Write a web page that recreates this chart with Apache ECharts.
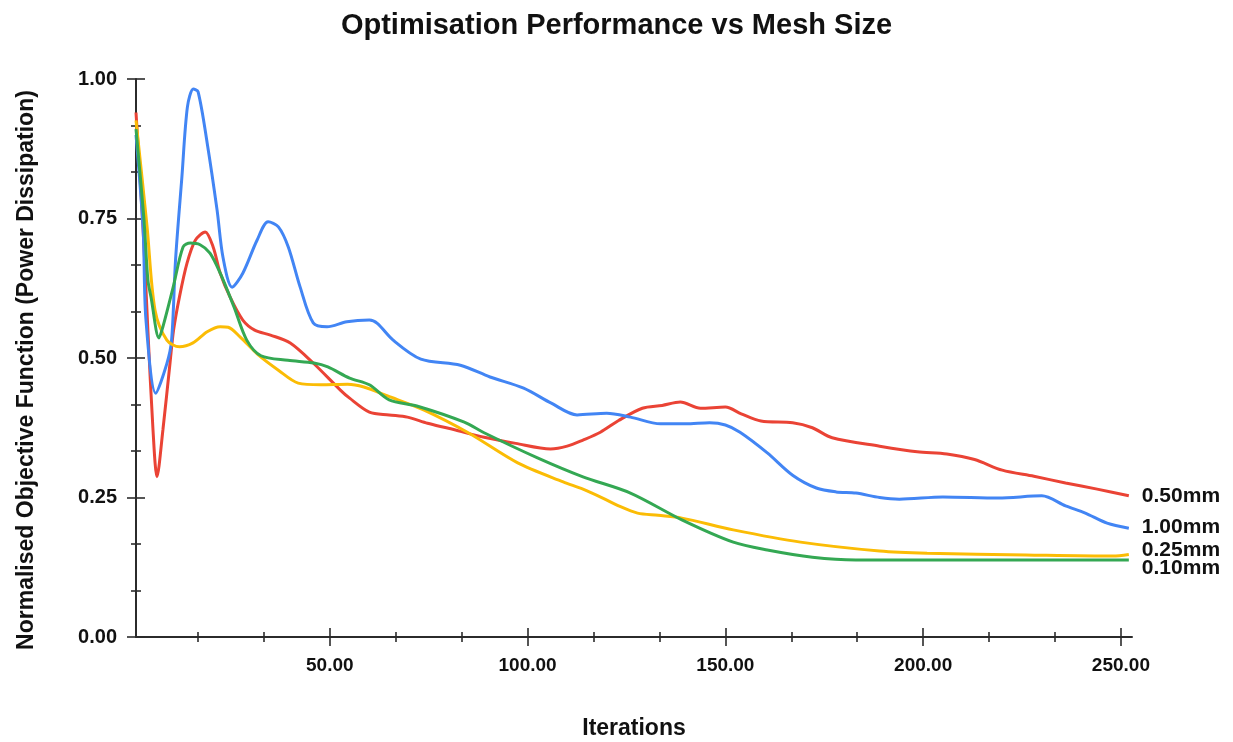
<!DOCTYPE html>
<html>
<head>
<meta charset="utf-8">
<script src="https://cdn.jsdelivr.net/npm/echarts@6/dist/echarts.min.js"></script>
<style>
html,body{margin:0;padding:0;background:#fff;}
#chart{width:1233px;height:742px;}
</style>
</head>
<body>
<div id="chart"></div>
<script>
// ---- Data ----
const seriesNames = ['0.50mm', '1.00mm', '0.25mm', '0.10mm'];

const iterRed = [1, 2.8, 4, 5.3, 6.3, 7.8, 9.6, 10.5, 12, 13.9, 16, 18.5, 20.5, 22.3, 24.8, 28, 31, 35, 40, 45.8, 52.6, 55, 60, 65, 69.6, 74.7, 80, 89, 97, 105.8, 110, 114, 118.4, 123, 129, 134, 138.6, 143.7, 150, 154, 159, 167, 172, 177, 189, 198.5, 206, 213, 220, 228, 236, 244, 252];
const valRed  = [0.94, 0.73, 0.55, 0.371, 0.287, 0.371, 0.491, 0.55, 0.61, 0.67, 0.711, 0.726, 0.699, 0.652, 0.609, 0.568, 0.55, 0.541, 0.527, 0.491, 0.443, 0.428, 0.403, 0.398, 0.394, 0.383, 0.374, 0.358, 0.347, 0.337, 0.342, 0.353, 0.367, 0.388, 0.41, 0.415, 0.421, 0.41, 0.412, 0.4, 0.387, 0.384, 0.375, 0.357, 0.342, 0.332, 0.328, 0.318, 0.299, 0.288, 0.276, 0.265, 0.253];

const iterBlue = [1, 2.8, 3.5, 6, 8.8, 10, 11, 12.6, 14, 15.5, 16.7, 19, 21.5, 23, 25.3, 28, 31.6, 34.4, 37, 39.5, 42.5, 45.8, 49.3, 54.3, 60, 62, 66, 73, 83, 90.5, 99, 106, 112.5, 120, 126, 133.6, 140, 146, 150, 153.7, 160.6, 167, 173, 178, 183, 189, 194, 205, 219, 230, 236, 241, 246.5, 252];
const valBlue  = [0.9, 0.73, 0.57, 0.437, 0.49, 0.532, 0.676, 0.824, 0.95, 0.982, 0.977, 0.885, 0.765, 0.68, 0.627, 0.652, 0.711, 0.744, 0.735, 0.699, 0.627, 0.563, 0.556, 0.565, 0.568, 0.562, 0.532, 0.498, 0.487, 0.466, 0.446, 0.419, 0.398, 0.401, 0.394, 0.382, 0.382, 0.384, 0.38, 0.367, 0.33, 0.29, 0.267, 0.26, 0.258, 0.25, 0.247, 0.251, 0.249, 0.253, 0.235, 0.222, 0.204, 0.195];

const iterYellow = [1, 3.8, 5.8, 8.8, 12, 15.4, 19, 22.3, 24.3, 27.3, 32, 37, 42, 47.7, 54.5, 58.6, 64.6, 73.7, 85, 97.5, 109, 114, 119, 123, 127.8, 133, 139, 152, 169, 189, 201, 226, 248, 252];
const valYellow  = [0.926, 0.735, 0.586, 0.532, 0.52, 0.527, 0.547, 0.556, 0.555, 0.538, 0.505, 0.478, 0.455, 0.452, 0.453, 0.448, 0.432, 0.407, 0.366, 0.312, 0.278, 0.265, 0.249, 0.235, 0.222, 0.218, 0.213, 0.192, 0.17, 0.154, 0.15, 0.147, 0.145, 0.148];

const iterGreen = [1, 3, 4, 4.8, 6.8, 7.8, 10.4, 12.9, 14.7, 17.2, 19.7, 22.3, 25.8, 29, 32.6, 39.4, 46, 49.5, 55, 60, 65, 72, 84, 89, 102.5, 114, 126, 139, 152, 160.6, 172, 183, 189, 220, 252];
const valGreen  = [0.91, 0.75, 0.64, 0.609, 0.536, 0.556, 0.627, 0.699, 0.706, 0.703, 0.688, 0.652, 0.591, 0.532, 0.504, 0.496, 0.491, 0.484, 0.464, 0.452, 0.425, 0.414, 0.385, 0.366, 0.321, 0.287, 0.258, 0.21, 0.17, 0.156, 0.143, 0.138, 0.138, 0.138, 0.138];

// axis ticks
const xMajorTicks = [50, 100, 150, 200, 250];
const xMinorTicks = [16.67, 33.33, 66.67, 83.33, 116.67, 133.33, 166.67, 183.33, 216.67, 233.33];
const yMajorTicks = [0, 0.25, 0.5, 0.75, 1.0];
const yMinorTicks = [0.0833, 0.1667, 0.3333, 0.4167, 0.5833, 0.6667, 0.8333, 0.9167];
const xRange = [1, 252.8];
const yRange = [0, 1];

// ---- Chart ----
const colors = ['#EA4335', '#4285F4', '#FBBC05', '#34A853'];
const labelOffsets = [[0, 0], [0, -1], [0, -4], [0, 8]];
const iters = [iterRed, iterBlue, iterYellow, iterGreen];
const vals = [valRed, valBlue, valYellow, valGreen];

const FONT = '"Liberation Sans", Arial, sans-serif';
const AXIS_COLOR = '#2b2b2b';
const gridRect = { left: 136, right: 101, top: 79, bottom: 105, containLabel: false, outerBoundsMode: 'none' };

const series = seriesNames.map((name, i) => ({
  name: name,
  type: 'line',
  xAxisIndex: 0,
  yAxisIndex: 0,
  data: iters[i].map((x, k) => [x, vals[i][k]]),
  showSymbol: false,
  smooth: 0.3,
  lineStyle: { color: colors[i], width: 3 },
  itemStyle: { color: colors[i] },
  endLabel: {
    show: true,
    formatter: '{a}',
    distance: 13,
    offset: labelOffsets[i],
    color: '#111',
    fontFamily: FONT,
    fontWeight: 'bold',
    fontSize: 21
  },
  z: 3
}));

// Tick-only axis builder (ticks crossing the axis: one set outside, one inside)
function tickXAxis(gridIndex, values, inside, len) {
  return {
    type: 'value', gridIndex: gridIndex, min: xRange[0], max: xRange[1],
    axisLine: { show: false },
    axisTick: { show: true, inside: inside, length: len, customValues: values, lineStyle: { color: AXIS_COLOR, width: 1.6 } },
    axisLabel: { show: false },
    splitLine: { show: false }
  };
}
function tickYAxis(gridIndex, values, inside, len) {
  return {
    type: 'value', gridIndex: gridIndex, min: yRange[0], max: yRange[1],
    axisLine: { show: false },
    axisTick: { show: true, inside: inside, length: len, customValues: values, lineStyle: { color: AXIS_COLOR, width: 1.6 } },
    axisLabel: { show: false },
    splitLine: { show: false }
  };
}

const option = {
  backgroundColor: '#ffffff',
  animation: false,
  title: {
    text: 'Optimisation Performance vs Mesh Size',
    left: 'center',
    top: 6,
    textStyle: { fontFamily: FONT, fontWeight: 'bold', fontSize: 29, color: '#111' }
  },
  grid: [0, 1, 2, 3].map(() => Object.assign({}, gridRect)),
  xAxis: [
    {
      type: 'value', gridIndex: 0, min: xRange[0], max: xRange[1],
      name: 'Iterations', nameLocation: 'middle', nameGap: 80,
      nameTextStyle: { fontFamily: FONT, fontWeight: 'bold', fontSize: 23, color: '#111' },
      axisLine: { show: true, lineStyle: { color: AXIS_COLOR, width: 2 } },
      axisTick: { show: true, length: 9, customValues: xMajorTicks, lineStyle: { color: AXIS_COLOR, width: 1.6 } },
      splitLine: { show: false },
      axisLabel: {
        margin: 19,
        customValues: xMajorTicks,
        formatter: v => v.toFixed(2),
        fontFamily: FONT, fontWeight: 'bold', fontSize: 19, color: '#111'
      }
    },
    tickXAxis(1, xMajorTicks, true, 9),
    tickXAxis(2, xMinorTicks, false, 5),
    tickXAxis(3, xMinorTicks, true, 5)
  ],
  yAxis: [
    {
      type: 'value', gridIndex: 0, min: yRange[0], max: yRange[1],
      name: 'Normalised Objective Function (Power Dissipation)',
      nameLocation: 'middle', nameGap: 98,
      nameTextStyle: { fontFamily: FONT, fontWeight: 'bold', fontSize: 23, color: '#111', padding: [0, 24, 0, 0] },
      axisLine: { show: true, lineStyle: { color: AXIS_COLOR, width: 2 } },
      axisTick: { show: true, length: 9, customValues: yMajorTicks, lineStyle: { color: AXIS_COLOR, width: 1.6 } },
      splitLine: { show: false },
      axisLabel: {
        margin: 19,
        customValues: yMajorTicks,
        formatter: v => v.toFixed(2),
        fontFamily: FONT, fontWeight: 'bold', fontSize: 20, color: '#111'
      }
    },
    tickYAxis(1, yMajorTicks, true, 9),
    tickYAxis(2, yMinorTicks, false, 5),
    tickYAxis(3, yMinorTicks, true, 5)
  ],
  series: series
};

const chart = echarts.init(document.getElementById('chart'), null, { renderer: 'canvas' });
chart.setOption(option);
</script>
</body>
</html>
